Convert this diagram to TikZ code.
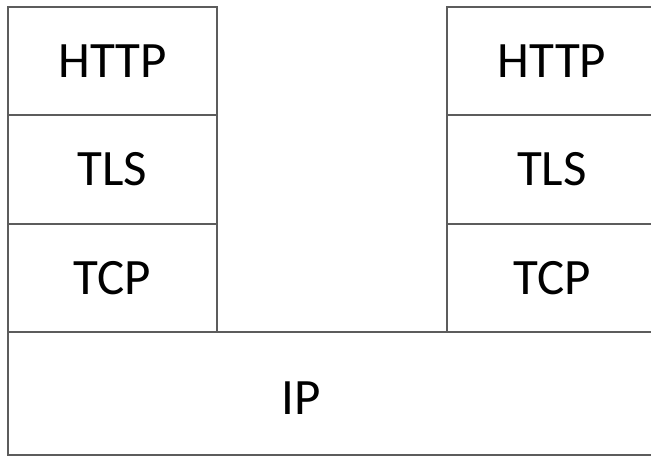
\documentclass[tikz,border=0pt]{standalone}
\usepackage{fontspec}
\setmainfont{Carlito}
\definecolor{edge}{HTML}{5C5C5C}
\begin{document}
\begin{tikzpicture}[x=1pt,y=-1pt,
  layer/.style={draw=edge,line width=2.6pt,rectangle,inner sep=0pt,font=\fontsize{51}{60}\selectfont},
  lbl/.style={inner sep=0pt,font=\fontsize{51}{60}\selectfont}]
\useasboundingbox (0,0) rectangle (651,456);
\clip (0,0) rectangle (651,456);
\fill[white] (0,0) rectangle (651,456);
% left stack
\node[layer,minimum width=209pt,minimum height=108pt] (lhttp) at (112.5,61) {HTTP};
\node[layer,minimum width=209pt,minimum height=109pt] (ltls) at (112.5,169.5) {TLS};
\node[layer,minimum width=209pt,minimum height=108pt] (ltcp) at (112.5,278) {TCP};
% right stack
\node[layer,minimum width=210pt,minimum height=108pt] (rhttp) at (552,61) {HTTP};
\node[layer,minimum width=210pt,minimum height=109pt] (rtls) at (552,169.5) {TLS};
\node[layer,minimum width=210pt,minimum height=108pt] (rtcp) at (552,278) {TCP};
% IP
\node[layer,minimum width=650pt,minimum height=123pt] (ip) at (333,393.5) {};
\node[lbl] (iplbl) at (301,398) {IP};
\end{tikzpicture}
\end{document}
